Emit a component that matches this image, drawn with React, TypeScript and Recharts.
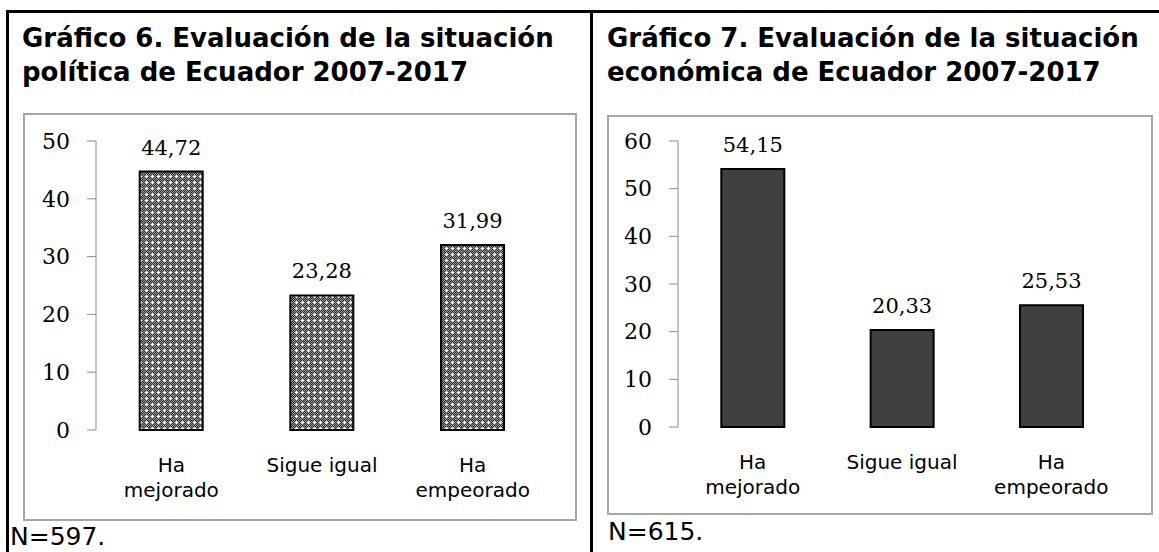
import React from "react";
import { BarChart, Bar, XAxis, YAxis, LabelList } from "recharts";

const categories = ["Ha mejorado", "Sigue igual", "Ha empeorado"];
const categoryLines = [["Ha", "mejorado"], ["Sigue igual"], ["Ha", "empeorado"]];
const politicaValues = [44.72, 23.28, 31.99];
const economicaValues = [54.15, 20.33, 25.53];
const politicaTicks = [0, 10, 20, 30, 40, 50];
const economicaTicks = [0, 10, 20, 30, 40, 50, 60];
const boundaryTicks = [0, 1, 2, 3];

const SANS = "'DejaVu Sans', Verdana, sans-serif";
const SERIF = "'DejaVu Serif', Cambria, serif";
const AXIS_GRAY = "#8c8c8c";

const toRows = (values: number[]) =>
  categories.map((cat, i) => ({ cat, value: values[i] }));

const fmt = (v: any) => Number(v).toFixed(2).replace(".", ",");

function CategoryTick(props: any) {
  const { x, y, index } = props;
  const lines = categoryLines[index] || [];
  return (
    <text x={x} y={y} textAnchor="middle" fontFamily={SANS} fontSize={20} fill="#000">
      {lines.map((l, i) => (
        <tspan key={i} x={x} y={y + 42 + i * 25}>
          {l}
        </tspan>
      ))}
    </text>
  );
}

interface PanelProps {
  values: number[];
  ticks: number[];
  fill: string;
  width: number;
  height: number;
  margin: { top: number; right: number; bottom: number; left: number };
  yWidth: number;
  xHeight: number;
}

function Panel({ values, ticks, fill, width, height, margin, yWidth, xHeight }: PanelProps) {
  const max = ticks[ticks.length - 1];
  return (
    <BarChart width={width} height={height} data={toRows(values)} margin={margin} barCategoryGap="29%">
      <XAxis
        xAxisId="grid"
        type="number"
        domain={[0, 3]}
        ticks={boundaryTicks}
        tick={false}
        height={0}
        tickSize={8}
        axisLine={{ stroke: AXIS_GRAY }}
        tickLine={{ stroke: AXIS_GRAY }}
        allowDataOverflow
      />
      <XAxis
        xAxisId="cat"
        dataKey="cat"
        height={xHeight}
        axisLine={false}
        tickLine={false}
        tickSize={0}
        tickMargin={0}
        interval={0}
        tick={<CategoryTick />}
      />
      <YAxis
        domain={[0, max]}
        ticks={ticks}
        width={yWidth}
        tickSize={9}
        tickMargin={17}
        axisLine={{ stroke: AXIS_GRAY }}
        tickLine={{ stroke: AXIS_GRAY }}
        tick={{ fill: "#000", fontFamily: SERIF, fontSize: 22 }}
      />
      <Bar xAxisId="cat" dataKey="value" fill={fill} stroke="#000" strokeWidth={2} isAnimationActive={false}>
        <LabelList
          dataKey="value"
          position="top"
          offset={17}
          formatter={fmt}
          style={{ fill: "#000", fontFamily: SERIF, fontSize: 21 }}
        />
      </Bar>
    </BarChart>
  );
}

function DotPattern() {
  const cells: React.ReactNode[] = [];
  for (let i = 0; i < 6; i++) {
    for (let j = 0; j < 6; j++) {
      if ((i + j) % 2 === 0) cells.push(<rect key={i + "-" + j} x={i} y={j} width={1} height={1} fill="#9a9a9a" />);
    }
  }
  return (
    <svg width={0} height={0} style={{ position: "absolute" }}>
      <defs>
        <pattern id="dotgrid" width={6} height={6} patternUnits="userSpaceOnUse">
          <rect width={6} height={6} fill="#2e2e2e" />
          {cells}
          <rect x={2} y={3} width={3} height={1} fill="#fff" />
          <rect x={3} y={2} width={1} height={3} fill="#fff" />
        </pattern>
      </defs>
    </svg>
  );
}

const titleStyle: React.CSSProperties = {
  position: "absolute",
  top: 21,
  fontFamily: SANS,
  fontWeight: "bold",
  fontSize: 26,
  lineHeight: "34px",
  color: "#000",
  whiteSpace: "nowrap",
};

const boxStyle: React.CSSProperties = {
  position: "absolute",
  border: "2px solid #a6a6a6",
  boxSizing: "border-box",
  background: "#fff",
};

const noteStyle: React.CSSProperties = {
  position: "absolute",
  fontFamily: SANS,
  fontSize: 25,
  lineHeight: "28px",
  color: "#000",
};

export default function App() {
  return (
    <div style={{ position: "absolute", left: 0, top: 0, width: 1159, height: 552, background: "#fff", overflow: "hidden" }}>
      <DotPattern />
      <div style={{ position: "absolute", left: 6, top: 10, width: 1153, height: 3, background: "#000" }} />
      <div style={{ position: "absolute", left: 6, top: 10, width: 3, height: 542, background: "#000" }} />
      <div style={{ position: "absolute", left: 590, top: 10, width: 3, height: 542, background: "#000" }} />

      <div style={{ ...titleStyle, left: 22 }}>
        Gráfico 6. Evaluación de la situación
        <br />
        política de Ecuador 2007-2017
      </div>
      <div style={{ ...titleStyle, left: 607 }}>
        Gráfico 7. Evaluación de la situación
        <br />
        económica de Ecuador 2007-2017
      </div>

      <div style={{ ...boxStyle, left: 23, top: 113, width: 554, height: 408 }}>
        <div style={{ position: "absolute", left: -2, top: -2 }}>
          <Panel
            values={politicaValues}
            ticks={politicaTicks}
            fill="url(#dotgrid)"
            width={554}
            height={408}
            margin={{ top: 28, right: 29, bottom: 0, left: 0 }}
            yWidth={73}
            xHeight={91}
          />
        </div>
      </div>

      <div style={{ ...boxStyle, left: 607, top: 115, width: 546, height: 400 }}>
        <div style={{ position: "absolute", left: -2, top: -2 }}>
          <Panel
            values={economicaValues}
            ticks={economicaTicks}
            fill="#404040"
            width={546}
            height={400}
            margin={{ top: 26, right: 27, bottom: 0, left: 0 }}
            yWidth={71}
            xHeight={88}
          />
        </div>
      </div>

      <div style={{ ...noteStyle, left: 10, top: 523 }}>N=597.</div>
      <div style={{ ...noteStyle, left: 608, top: 518 }}>N=615.</div>
    </div>
  );
}
